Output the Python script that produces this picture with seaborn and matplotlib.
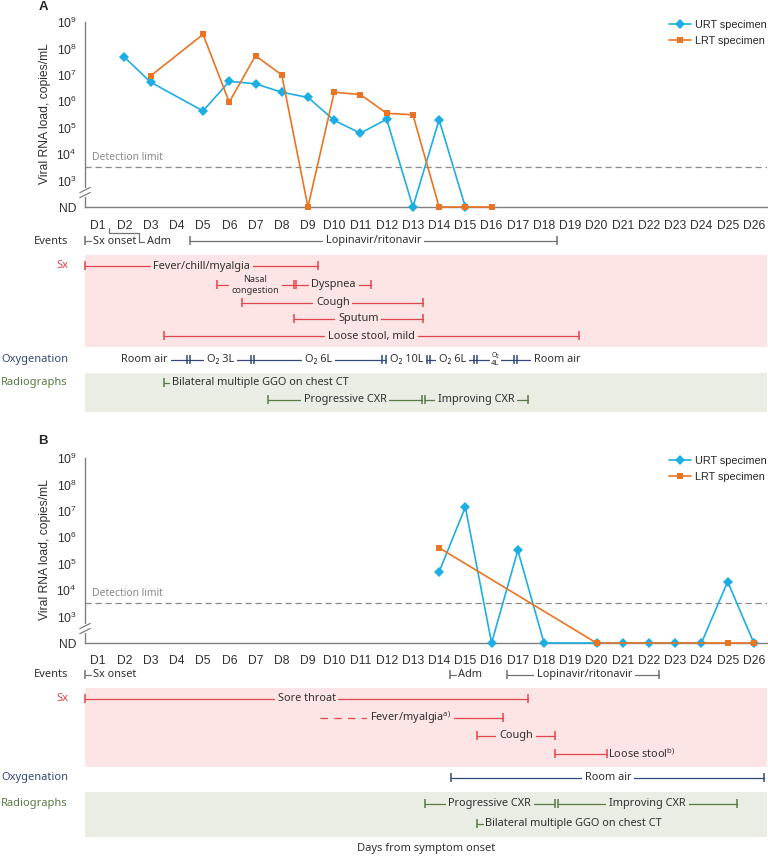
import numpy as np
import pandas as pd
import seaborn as sns
import matplotlib.pyplot as plt
from matplotlib.patches import Rectangle
from matplotlib.ticker import FixedLocator, NullLocator

sns.set_theme(style="white")
plt.rcParams['font.family'] = ['Liberation Sans', 'DejaVu Sans']
plt.rcParams['mathtext.fontset'] = 'custom'
plt.rcParams['mathtext.rm'] = 'Liberation Sans'
plt.rcParams['mathtext.it'] = 'Liberation Sans:italic'
plt.rcParams['mathtext.bf'] = 'Liberation Sans:bold'

W, H = 768, 856
ND = 1e2          # "not detected" is drawn at the 10^2 level
DET = 3.2e3       # detection limit
FS = 7.9          # timeline text size

days = list(range(1, 27))
day_labels = ["D%d" % d for d in days]
ytick_vals = [1e2, 1e3, 1e4, 1e5, 1e6, 1e7, 1e8, 1e9]
ytick_labels = ["ND"] + [r"$\mathregular{10^{%d}}$" % k for k in range(3, 10)]

# panel A viral load
a_urt_day = [2, 3, 5, 6, 7, 8, 9, 10, 11, 12, 13, 14, 15]
a_urt_load = [4.7e7, 5.3e6, 4.3e5, 5.7e6, 4.6e6, 2.2e6, 1.4e6, 1.9e5, 6.2e4, 2.1e5, ND, 2.0e5, ND]
a_lrt_day = [3, 5, 6, 7, 8, 9, 10, 11, 12, 13, 14, 15, 16]
a_lrt_load = [9.1e6, 3.4e8, 9.3e5, 5.3e7, 1.0e7, ND, 2.2e6, 1.8e6, 3.5e5, 3.1e5, ND, ND, ND]

# panel B viral load
b_urt_day = [14, 15, 16, 17, 18, 20, 21, 22, 23, 24, 25, 26]
b_urt_load = [4.9e4, 1.4e7, ND, 3.2e5, ND, ND, ND, ND, ND, ND, 2.1e4, ND]
b_lrt_day = [14, 20, 25, 26]
b_lrt_load = [4.0e5, ND, ND, ND]

# timelines (day positions, x.5 = boundary between days)
a_sx = [("Fever/chill/myalgia", 0.5, 9.4),
        ("Cough", 6.5, 13.4),
        ("Sputum", 8.45, 13.4),
        ("Loose stool, mild", 3.5, 19.35)]
a_nasal = (5.54, 8.45)
a_dyspnea = (8.55, 11.4)
a_lopinavir = (4.5, 18.5)
a_adm = (1.42, 2.56)
a_oxy_bounds = [2.77, 4.43, 6.9, 11.9, 13.6, 15.4, 16.9, 18.5]
a_oxy_labels = ["Room air", "O₂ 3L", "O₂ 6L", "O₂ 10L", "O₂ 6L", "", "Room air"]
a_ggo = 3.5
a_cxr = [7.48, 13.4, 17.37]

b_adm = 14.43
b_lopinavir = (16.57, 22.4)
b_sore = (0.5, 17.4)
b_fever_dash = (9.47, 12.0)
b_fever = (12.9, 16.45)
b_cough = (15.46, 18.4)
b_stool = (18.4, 20.4)
b_oxy = (14.47, 26.4)
b_cxr = [13.45, 18.48, 25.35]
b_ggo = 15.46

C_URT = "#1eaee3"
C_LRT = "#ea7424"
C_EV = "#707070"
C_SX = "#e2454c"
C_OX = "#34497a"
C_RAD = "#587a45"
BG_SX = "#fde4e5"
BG_RAD = "#e9ede4"
TXT = "#303030"
TF = ['Noto Sans', 'DejaVu Sans']

fig = plt.figure(figsize=(W / 100, H / 100), dpi=100)


def load_axes(top, bottom, urt_d, urt_v, lrt_d, lrt_v):
    ax = fig.add_axes([85 / W, 1 - bottom / H, 682 / W, (bottom - top) / H])
    ax.set_yscale('log')
    df = pd.DataFrame({
        'day': urt_d + lrt_d,
        'load': urt_v + lrt_v,
        'specimen': ['URT specimen'] * len(urt_d) + ['LRT specimen'] * len(lrt_d)})
    sns.lineplot(data=df, x='day', y='load', hue='specimen', style='specimen',
                 hue_order=['URT specimen', 'LRT specimen'],
                 style_order=['URT specimen', 'LRT specimen'],
                 palette={'URT specimen': C_URT, 'LRT specimen': C_LRT},
                 markers={'URT specimen': 'D', 'LRT specimen': 's'}, dashes=False,
                 lw=1.2, markersize=5, markeredgewidth=0, clip_on=False, ax=ax, zorder=4)
    ax.set_xlim(0.5, 26.5)
    ax.set_ylim(ND, 1e9)
    ax.yaxis.set_major_locator(FixedLocator(ytick_vals))
    ax.yaxis.set_minor_locator(NullLocator())
    ax.set_yticklabels(ytick_labels)
    ax.set_xticks(days)
    ax.set_xticklabels(day_labels)
    ax.set_xticks([d + 0.5 for d in range(0, 27)], minor=True)
    ax.tick_params(axis='x', which='major', length=0, pad=9, labelsize=8.7, colors=TXT)
    ax.tick_params(axis='x', which='minor', length=4, width=1, color='#808080', direction='out')
    ax.tick_params(axis='y', which='major', length=4, width=1, color='#808080', direction='out',
                   pad=2, labelsize=8.7, labelcolor=TXT)
    for s in ['top', 'right']:
        ax.spines[s].set_visible(False)
    for s in ['left', 'bottom']:
        ax.spines[s].set_color('#808080')
        ax.spines[s].set_linewidth(1)
    ax.set_xlabel('')
    ax.set_ylabel('')
    ax.axhline(DET, color='#8a8a8a', lw=0.9, ls=(0, (5, 3)), zorder=2)
    ax.text(0.76, DET * 1.45, 'Detection limit', fontsize=7.4, color='#8a8a8a',
            family=TF, ha='left', va='bottom')
    # axis break
    ax.plot([0.5, 0.5], [10 ** 2.45, 10 ** 2.64], color='white', lw=3, clip_on=False, zorder=5)
    for c in (2.45, 2.64):
        ax.plot([0.3, 0.7], [10 ** (c - 0.1), 10 ** (c + 0.1)], color='#808080', lw=0.9,
                clip_on=False, zorder=6)
    ax.legend(frameon=False, loc='upper right', bbox_to_anchor=(1.0, 1.01), fontsize=7.8,
              handlelength=2.0, handletextpad=0.4, labelspacing=0.55, borderpad=0,
              borderaxespad=0)
    ax.set_facecolor('none')
    fig.text(45 / W, 1 - (top + 92) / H, 'Viral RNA load, copies/mL', rotation=90,
             ha='center', va='center', fontsize=8.7, color=TXT)
    return ax


def time_axes(top, bottom):
    ax = fig.add_axes([85 / W, 1 - bottom / H, 682 / W, (bottom - top) / H])
    ax.set_xlim(0.5, 26.5)
    ax.set_ylim(bottom, top)
    ax.axis('off')
    return ax


def cap(ax, x, y, color, h=4.5):
    ax.plot([x, x], [y - h, y + h], color=color, lw=1.1, clip_on=False, solid_capstyle='butt')


def seg(ax, x0, x1, y, color, ls='-'):
    ax.plot([x0, x1], [y, y], color=color, lw=0.9, ls=ls, clip_on=False)


def label(ax, x, y, s, bg, fs=FS, ha='center', color=TXT):
    ax.text(x, y, s, ha=ha, va='center', fontsize=fs, color=color, family=TF, zorder=5,
            bbox=dict(boxstyle='square,pad=0.25', fc=bg, ec='none'))


def plain(ax, x, y, s, fs=FS):
    ax.text(x, y, s, ha='left', va='center', fontsize=fs, color=TXT, family=TF)


def span(ax, x0, x1, y, color, s=None, bg='white', caps=(True, True), tx=None, fs=FS):
    seg(ax, x0, x1, y, color)
    if caps[0]:
        cap(ax, x0, y, color)
    if caps[1]:
        cap(ax, x1, y, color)
    if s:
        label(ax, (x0 + x1) / 2 if tx is None else tx, y, s, bg, fs)


def double(ax, x, y, color):
    cap(ax, x - 0.06, y, color)
    cap(ax, x + 0.06, y, color)


def row_name(ax, y, s, color):
    ax.text(-0.15, y, s, ha='right', va='center', fontsize=8, color=color, family=TF)


# ---------------- panel A ----------------
ax_a = load_axes(22, 207, a_urt_day, a_urt_load, a_lrt_day, a_lrt_load)
ta = time_axes(207, 440)

row_name(ta, 241, 'Events', TXT)
cap(ta, 0.5, 241, C_EV)
seg(ta, 0.5, 0.72, 241, C_EV)
plain(ta, 0.8, 241, 'Sx onset')
ta.plot([a_adm[0], a_adm[0], a_adm[1], a_adm[1], a_adm[1] + 0.2],
        [228, 233, 233, 242, 242], color=C_EV, lw=0.9, clip_on=False)
plain(ta, a_adm[1] + 0.3, 242, 'Adm')
span(ta, a_lopinavir[0], a_lopinavir[1], 241, C_EV, 'Lopinavir/ritonavir')

ta.add_patch(Rectangle((0.42, 255), 26.08, 92, fc=BG_SX, ec='none', zorder=0))
row_name(ta, 266, 'Sx', C_SX)
for (s, x0, x1), y in zip(a_sx, [266, 303, 319, 336]):
    span(ta, x0, x1, y, C_SX, s, bg=BG_SX)
span(ta, a_nasal[0], a_nasal[1], 285, C_SX, 'Nasal\ncongestion', bg=BG_SX, fs=6.6)
span(ta, a_dyspnea[0], a_dyspnea[1], 285, C_SX, 'Dyspnea', bg=BG_SX)

row_name(ta, 360, 'Oxygenation', C_OX)
seg(ta, a_oxy_bounds[0], a_oxy_bounds[-1], 360, C_OX)
for b in a_oxy_bounds[1:-1]:
    double(ta, b, 360, C_OX)
for i, s in enumerate(a_oxy_labels):
    if i == 0:
        label(ta, a_oxy_bounds[0], 360, s, 'white')
    elif i == len(a_oxy_labels) - 1:
        label(ta, a_oxy_bounds[-1], 360, s, 'white')
    elif s:
        label(ta, (a_oxy_bounds[i] + a_oxy_bounds[i + 1]) / 2, 360, s, 'white')
mid4 = (a_oxy_bounds[5] + a_oxy_bounds[6]) / 2
ta.text(mid4, 355.5, 'O₂', ha='center', va='center', fontsize=5, color=TXT, family=TF, zorder=5,
        bbox=dict(boxstyle='square,pad=0.1', fc='white', ec='none'))
ta.text(mid4, 363.5, '4L', ha='center', va='center', fontsize=5.6, color=TXT, family=TF, zorder=5,
        bbox=dict(boxstyle='square,pad=0.1', fc='white', ec='none'))

ta.add_patch(Rectangle((0.42, 373), 26.08, 39, fc=BG_RAD, ec='none', zorder=0))
row_name(ta, 383, 'Radiographs', C_RAD)
cap(ta, a_ggo, 383, C_RAD)
seg(ta, a_ggo, a_ggo + 0.2, 383, C_RAD)
plain(ta, a_ggo + 0.3, 383, 'Bilateral multiple GGO on chest CT')
span(ta, a_cxr[0], a_cxr[1] - 0.06, 400, C_RAD, 'Progressive CXR', bg=BG_RAD)
span(ta, a_cxr[1] + 0.06, a_cxr[2], 400, C_RAD, 'Improving CXR', bg=BG_RAD)

# ---------------- panel B ----------------
ax_b = load_axes(458, 643, b_urt_day, b_urt_load, b_lrt_day, b_lrt_load)
tb = time_axes(643, 856)

row_name(tb, 675, 'Events', TXT)
cap(tb, 0.5, 675, C_EV)
seg(tb, 0.5, 0.72, 675, C_EV)
plain(tb, 0.8, 675, 'Sx onset')
cap(tb, b_adm, 675, C_EV)
seg(tb, b_adm, b_adm + 0.22, 675, C_EV)
plain(tb, b_adm + 0.3, 675, 'Adm')
span(tb, b_lopinavir[0], b_lopinavir[1], 675, C_EV, 'Lopinavir/ritonavir',
     tx=(b_lopinavir[0] + b_lopinavir[1]) / 2 + 0.05)

tb.add_patch(Rectangle((0.42, 688), 26.08, 79, fc=BG_SX, ec='none', zorder=0))
row_name(tb, 699, 'Sx', C_SX)
span(tb, b_sore[0], b_sore[1], 699, C_SX, 'Sore throat', bg=BG_SX)
seg(tb, b_fever_dash[0], b_fever_dash[1], 718, C_SX, ls=(0, (6, 5)))
span(tb, b_fever[0], b_fever[1], 718, C_SX, caps=(False, True))
label(tb, b_fever[0], 718, r'Fever/myalgia$^{\mathregular{a)}}$', BG_SX)
span(tb, b_cough[0], b_cough[1], 736, C_SX, 'Cough', bg=BG_SX)
span(tb, b_stool[0], b_stool[1], 754, C_SX)
plain(tb, b_stool[1] + 0.05, 754, r'Loose stool$^{\mathregular{b)}}$')

row_name(tb, 778, 'Oxygenation', C_OX)
span(tb, b_oxy[0], b_oxy[1], 778, C_OX, 'Room air')

tb.add_patch(Rectangle((0.42, 792), 26.08, 45, fc=BG_RAD, ec='none', zorder=0))
row_name(tb, 804, 'Radiographs', C_RAD)
span(tb, b_cxr[0], b_cxr[1] - 0.06, 804, C_RAD, 'Progressive CXR', bg=BG_RAD)
span(tb, b_cxr[1] + 0.06, b_cxr[2], 804, C_RAD, 'Improving CXR', bg=BG_RAD)
cap(tb, b_ggo, 824, C_RAD)
seg(tb, b_ggo, b_ggo + 0.2, 824, C_RAD)
plain(tb, b_ggo + 0.3, 824, 'Bilateral multiple GGO on chest CT')

fig.text(426 / W, 1 - 848 / H, 'Days from symptom onset', ha='center', va='center',
         fontsize=8, color=TXT, family=TF)
fig.text(43 / W, 1 - 7 / H, 'A', ha='center', va='center', fontsize=9.5, fontweight='bold')
fig.text(43 / W, 1 - 441 / H, 'B', ha='center', va='center', fontsize=9.5, fontweight='bold')

fig.savefig('out.png', dpi=100)
